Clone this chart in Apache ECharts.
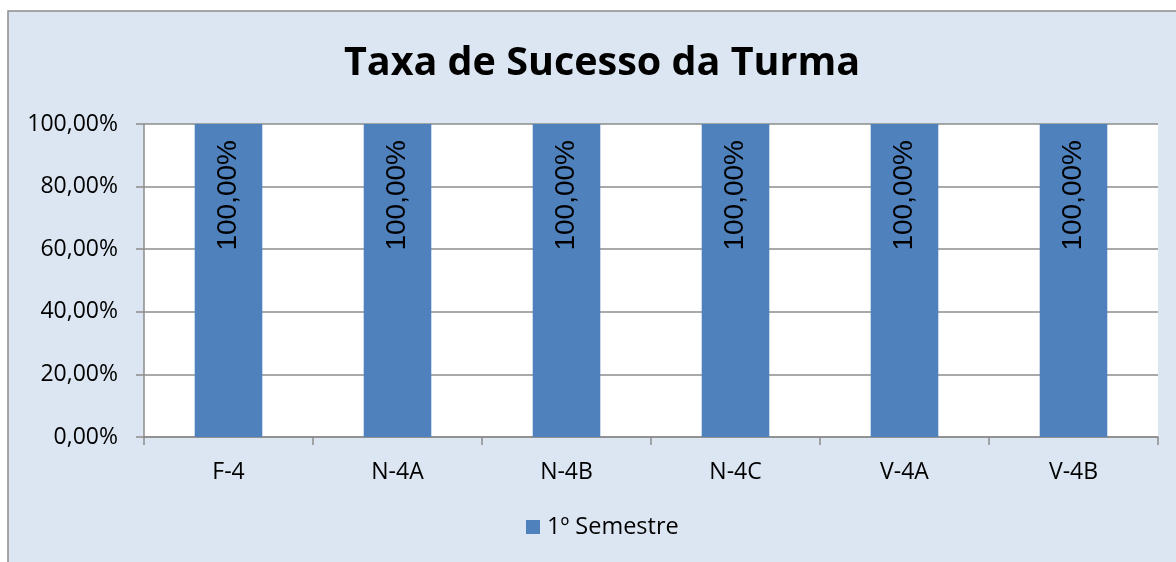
<!DOCTYPE html>
<html>
<head>
<meta charset="utf-8">
<script src="https://cdn.jsdelivr.net/npm/echarts@6/dist/echarts.min.js"></script>
<style>
html,body{margin:0;padding:0;background:#ffffff;}
#chart{width:1176px;height:562px;}
</style>
</head>
<body>
<div id="chart"></div>
<script>
const categories = ['F-4', 'N-4A', 'N-4B', 'N-4C', 'V-4A', 'V-4B'];
const seriesName = '1º Semestre';
const values = [1, 1, 1, 1, 1, 1];
const titleText = 'Taxa de Sucesso da Turma';

const fmtPct = v => (v * 100).toFixed(2).replace('.', ',') + '%';

const chart = echarts.init(document.getElementById('chart'));
const FONT = 'Open Sans';
chart.setOption({
  backgroundColor: '#ffffff',
  animation: false,
  graphic: [{
    type: 'rect', z: -10, silent: true,
    shape: {x: 8, y: 11, width: 1200, height: 600},
    style: {fill: '#dce6f2', stroke: '#8c8c8c', lineWidth: 1.5}
  }],
  title: {
    text: titleText,
    left: 597, top: 39, textAlign: 'center',
    textStyle: {fontFamily: FONT, fontWeight: 'bold', fontSize: 39.5, color: '#000'}
  },
  legend: {
    bottom: 18, left: 521,
    itemWidth: 14, itemHeight: 14, itemGap: 8,
    icon: 'rect',
    textStyle: {fontFamily: FONT, fontSize: 23.5, color: '#000', padding: [0, 0, 0, 2]},
    data: [seriesName]
  },
  grid: {
    left: 144, top: 124, right: 18, bottom: 125,
    show: true, backgroundColor: '#ffffff', borderWidth: 0
  },
  xAxis: {
    type: 'category',
    data: categories,
    axisLine: {lineStyle: {color: '#8c8c8c', width: 1.5}},
    axisTick: {show: true, length: 8, alignWithLabel: false, lineStyle: {color: '#8c8c8c', width: 1.5}},
    axisLabel: {fontFamily: FONT, fontSize: 23, color: '#000', margin: 24}
  },
  yAxis: {
    type: 'value',
    min: 0, max: 1, interval: 0.2,
    axisLine: {show: true, lineStyle: {color: '#8c8c8c', width: 1.5}},
    axisTick: {show: true, length: 8, lineStyle: {color: '#8c8c8c', width: 1.5}},
    splitLine: {show: true, lineStyle: {color: '#8c8c8c', width: 1.5}},
    axisLabel: {fontFamily: FONT, fontSize: 23, color: '#000', margin: 26, formatter: fmtPct}
  },
  series: [{
    name: seriesName,
    type: 'bar',
    data: values,
    barWidth: '40%',
    itemStyle: {color: '#4f81bd'},
    label: {
      show: true,
      position: 'insideTop',
      distance: 16,
      rotate: 90,
      align: 'right',
      verticalAlign: 'middle',
      fontFamily: 'Liberation Sans',
      fontSize: 28,
      color: '#000',
      formatter: p => fmtPct(p.value)
    }
  }]
});
</script>
</body>
</html>
